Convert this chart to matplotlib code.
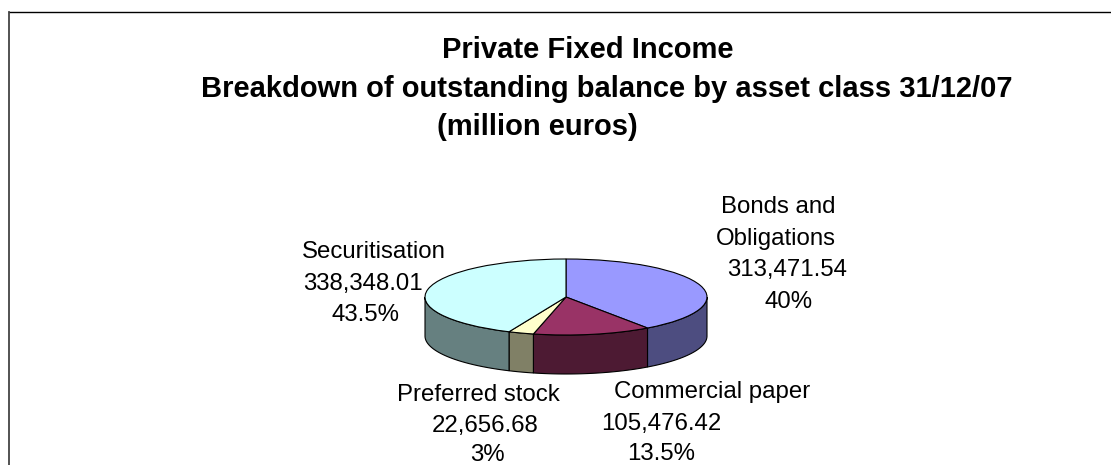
import numpy as np
import matplotlib
matplotlib.use("Agg")
import matplotlib.pyplot as plt

plt.rcParams['font.family'] = ['Liberation Sans', 'DejaVu Sans']

W, H = 1111, 465

# clockwise from 12 o'clock
values = [313471.54, 105476.42, 22656.68, 338348.01]
top_colors = ["#9999FF", "#993366", "#FFFFCC", "#CCFFFF"]
side_colors = ["#4D4D80", "#4D1A33", "#808066", "#668080"]

title_lines = ["Private Fixed Income",
               "Breakdown of outstanding balance by asset class 31/12/07",
               "(million euros)"]
title_x = [588, 607, 537]
title_y = [50, 89, 127]

label_lines = [["Bonds and", "Obligations", "313,471.54", "40%"],
               ["Commercial paper", "105,476.42", "13.5%"],
               ["Preferred stock", "22,656.68", "3%"],
               ["Securitisation", "338,348.01", "43.5%"]]
label_x = [[778, 776, 787, 789], [712, 661, 661], [478, 485, 487], [374, 363, 365]]
label_y = [[207, 239, 270, 302], [392, 424, 454], [395, 426, 454.5], [252, 284, 315]]

fig = plt.figure(figsize=(W / 100, H / 100), dpi=100)

# pixel canvas for border and texts
bg = fig.add_axes([0, 0, 1, 1])
bg.set_xlim(0, W)
bg.set_ylim(H, 0)
bg.axis("off")
bg.plot([8.5, W], [12.5, 12.5], color="black", lw=1)
bg.plot([8.5, 8.5], [12.5, H], color="#444444", lw=1.3)

for s, x, y in zip(title_lines, title_x, title_y):
    bg.text(x, y, s, ha="center", va="center", fontsize=21, fontweight="bold")
for lines, xs, ys in zip(label_lines, label_x, label_y):
    for s, x, y in zip(lines, xs, ys):
        bg.text(x, y, s, ha="center", va="center", fontsize=17.3)

# pie: squashed unit circle plus a wall below it
cx, cy, rx, ry, depth = 566, 297, 141, 38, 39
ax = fig.add_axes([(cx - rx) / W, (H - cy - ry - depth) / H, 2 * rx / W, (2 * ry + depth) / H])
ax.patch.set_alpha(0)
d = depth / ry

fracs = np.array(values) / sum(values)
ends = 90 - 360 * np.cumsum(fracs)
starts = ends + 360 * fracs
for a, b, c in zip(starts, ends, side_colors):
    # only the part on the front half of the rim is visible
    lo = max(b, -180)
    hi = min(a, 0)
    if hi <= lo:
        continue
    t = np.radians(np.linspace(lo, hi, 80))
    xs = np.r_[np.cos(t), np.cos(t[::-1])]
    ys = np.r_[np.sin(t), np.sin(t[::-1]) - d]
    ax.fill(xs, ys, facecolor=c, edgecolor="black", lw=0.8)

ax.pie(values, colors=top_colors, startangle=90, counterclock=False, radius=1,
       wedgeprops=dict(edgecolor="black", linewidth=0.8), frame=False)
ax.set_aspect("auto")
ax.set_xlim(-1, 1)
ax.set_ylim(-1 - d, 1)
for p in ax.patches + ax.lines:
    p.set_clip_on(False)

fig.savefig("out.png", dpi=100)
